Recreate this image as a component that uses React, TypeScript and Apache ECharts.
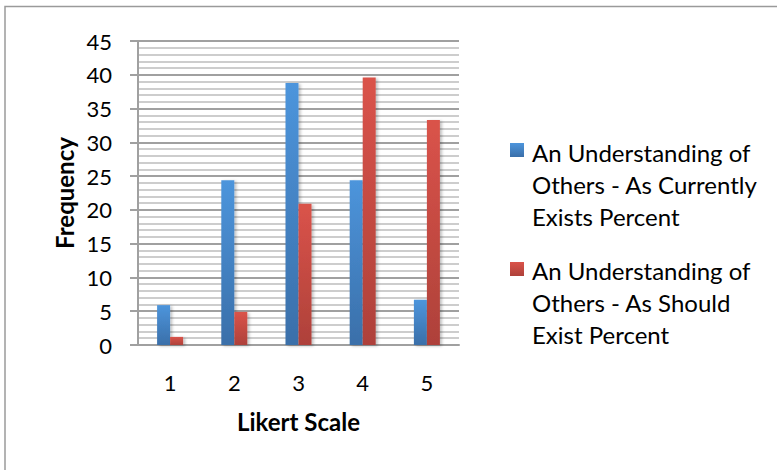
import React, { useEffect, useRef } from "react";
import * as echarts from "echarts";

const categories = ["1", "2", "3", "4", "5"];
const seriesNames = [
  "An Understanding of Others - As Currently Exists Percent",
  "An Understanding of Others - As Should Exist Percent",
];
const legendLines = [
  "An Understanding of\nOthers - As Currently\nExists Percent",
  "An Understanding of\nOthers - As Should\nExist Percent",
];
const currentlyExists = [5.9, 24.4, 38.8, 24.4, 6.7];
const shouldExist = [1.2, 4.9, 20.9, 39.6, 33.3];

const FONT = "Lato, 'Open Sans', sans-serif";

const blueFill = () =>
  new echarts.graphic.LinearGradient(0, 0, 0, 1, [
    { offset: 0, color: "#4d95dc" },
    { offset: 1, color: "#3a6fa9" },
  ]);
const redFill = () =>
  new echarts.graphic.LinearGradient(0, 0, 0, 1, [
    { offset: 0, color: "#da534a" },
    { offset: 1, color: "#ae413a" },
  ]);

export default function App() {
  const ref = useRef<HTMLDivElement>(null);

  useEffect(() => {
    if (!ref.current) return;
    const chart = echarts.init(ref.current, undefined, { renderer: "svg" });
    const barShadow = {
      shadowBlur: 3,
      shadowColor: "rgba(0,0,0,0.25)",
      shadowOffsetX: 2,
      shadowOffsetY: 1,
    };
    chart.setOption({
      animation: false,
      backgroundColor: "#ffffff",
      textStyle: { fontFamily: FONT },
      grid: { left: 138, right: 318, top: 41, bottom: 125, containLabel: false },
      xAxis: {
        type: "category",
        data: categories,
        axisTick: { show: false },
        axisLine: { lineStyle: { color: "#a0a0a0", width: 2 } },
        axisLabel: { fontSize: 22, color: "#000", margin: 26, fontFamily: FONT },
        name: "Likert Scale",
        nameLocation: "middle",
        nameGap: 64,
        nameTextStyle: { fontSize: 24, fontWeight: "bold", color: "#000", fontFamily: FONT },
      },
      yAxis: {
        type: "value",
        min: 0,
        max: 45,
        interval: 5,
        axisLine: { show: true, lineStyle: { color: "#a0a0a0", width: 2 } },
        axisTick: { show: true, length: 8, lineStyle: { color: "#a0a0a0", width: 2 } },
        axisLabel: {
          fontSize: 22,
          color: "#000",
          margin: 26,
          fontFamily: FONT,
          padding: [4, 0, 0, 0],
        },
        splitLine: { show: true, lineStyle: { color: "#a0a0a0", width: 2 } },
        minorTick: { show: false, splitNumber: 5 },
        minorSplitLine: { show: true, lineStyle: { color: "#cdcdcd", width: 2 } },
        name: "Frequency",
        nameLocation: "middle",
        nameGap: 62,
        nameTextStyle: { fontSize: 24, fontWeight: "bold", color: "#000", fontFamily: FONT },
      },
      series: [
        {
          name: seriesNames[0],
          type: "bar",
          data: currentlyExists,
          barWidth: 13,
          barGap: "0%",
          itemStyle: { color: blueFill(), ...barShadow },
        },
        {
          name: seriesNames[1],
          type: "bar",
          data: shouldExist,
          barWidth: 13,
          barGap: "0%",
          itemStyle: { color: redFill(), ...barShadow },
        },
      ],
      graphic: [
        {
          type: "rect",
          shape: { x: 5, y: 6.5, width: 900, height: 600 },
          style: { fill: "none", stroke: "#9a9a9a", lineWidth: 1.5 },
          silent: true,
        },
        {
          type: "rect",
          shape: { x: 510, y: 143, width: 14, height: 14 },
          style: { fill: blueFill() },
        },
        {
          type: "text",
          x: 532,
          y: 136,
          style: {
            text: legendLines[0],
            fontSize: 24,
            lineHeight: 32,
            fill: "#000",
            fontFamily: FONT,
          },
        },
        {
          type: "rect",
          shape: { x: 510, y: 262, width: 14, height: 14 },
          style: { fill: redFill() },
        },
        {
          type: "text",
          x: 532,
          y: 254,
          style: {
            text: legendLines[1],
            fontSize: 24,
            lineHeight: 32,
            fill: "#000",
            fontFamily: FONT,
          },
        },
      ],
    });
    return () => chart.dispose();
  }, []);

  return (
    <div
      ref={ref}
      style={{ position: "fixed", left: 0, top: 0, width: 777, height: 470, background: "#fff" }}
    />
  );
}
